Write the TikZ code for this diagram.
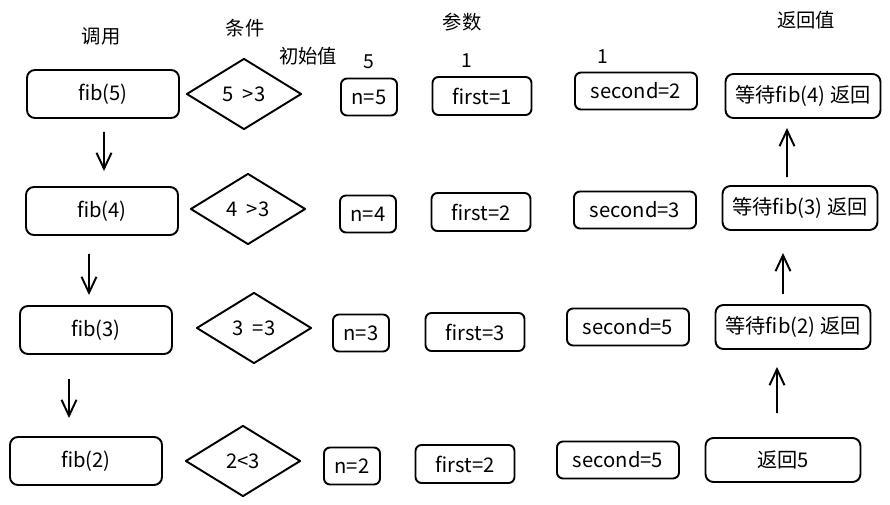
\documentclass[tikz,border=0pt]{standalone}
\usepackage{fontspec}
\setmainfont{Noto Sans CJK SC}
\usetikzlibrary{positioning}
\usetikzlibrary{shapes.geometric,arrows.meta}

\begin{document}
\begin{tikzpicture}[
	sketch/.style={draw, line width=1.1pt, line join=round, inner sep=0pt, font=\fontsize{11.5}{13}\selectfont},
	callbox/.style={sketch, rounded corners=0.16cm, minimum width=3.04cm, minimum height=0.96cm},
	condbox/.style={sketch, diamond, minimum width=2.30cm, minimum height=1.42cm},
	nbox/.style={sketch, rounded corners=0.12cm, minimum width=1.12cm, minimum height=0.74cm},
	firstbox/.style={sketch, rounded corners=0.12cm, minimum width=1.98cm, minimum height=0.76cm},
	secondbox/.style={sketch, rounded corners=0.12cm, minimum width=2.44cm, minimum height=0.74cm},
	retbox/.style={sketch, rounded corners=0.16cm, minimum width=3.10cm, minimum height=0.88cm},
	header/.style={font=\fontsize{11}{13}\selectfont},
	flow/.style={line width=1.1pt, -{Straight Barb[length=3.2mm, width=3mm]}}
]
	\useasboundingbox (0,0) rectangle (17.80cm,10.10cm);

	% ---------------------
	% Column headers
	\node[header] (CallHead)   at (2.02cm,9.38cm)  {调用};
	\node[header] (CondHead)   at (4.90cm,9.54cm)  {条件};
	\node[header] (InitHead)   at (6.16cm,8.98cm)  {初始值};
	\node[header] (ParamHead)  at (9.24cm,9.66cm)  {参数};
	\node[header] (ReturnHead) at (16.12cm,9.70cm) {返回值};

	% ---------------------
	% Calls
	\node[callbox] (Fib5) at (2.06cm,8.22cm) {fib(5)};
	\node[callbox] (Fib4) at (2.04cm,5.88cm) {fib(4)};
	\node[callbox] (Fib3) at (1.92cm,3.50cm) {fib(3)};
	\node[callbox] (Fib2) at (1.72cm,0.88cm) {fib(2)};

	% ---------------------
	% Conditions
	\node[condbox] (Cond5) at (4.88cm,8.22cm) {5 \ >3};
	\node[condbox] (Cond4) at (4.96cm,5.92cm) {4 \ >3};
	\node[condbox] (Cond3) at (5.08cm,3.54cm) {3 \ =3};
	\node[condbox] (Cond2) at (4.86cm,0.88cm) {2<3};

	% ---------------------
	% Initial values
	\node[nbox] (N5) at (7.38cm,8.16cm) {n=5};
	\node[nbox] (N4) at (7.36cm,5.82cm) {n=4};
	\node[nbox] (N3) at (7.22cm,3.44cm) {n=3};
	\node[nbox] (N2) at (7.04cm,0.78cm) {n=2};

	% ---------------------
	% Parameters
	\node[firstbox] (FirstA) at (9.64cm,8.18cm) {first=1};
	\node[firstbox] (FirstB) at (9.62cm,5.86cm) {first=2};
	\node[firstbox] (FirstC) at (9.50cm,3.46cm) {first=3};
	\node[firstbox] (FirstD) at (9.30cm,0.82cm) {first=2};

	\node[secondbox] (SecondA) at (12.72cm,8.28cm) {second=2};
	\node[secondbox] (SecondB) at (12.70cm,5.90cm) {second=3};
	\node[secondbox] (SecondC) at (12.56cm,3.56cm) {second=5};
	\node[secondbox] (SecondD) at (12.36cm,0.90cm) {second=5};

	\node[header, above=0.06cm of N5] (NStart) {5};
	\node[header, above=0.04cm of FirstA, xshift=-0.30cm] (FirstStart) {1};
	\node[header, above=0.04cm of SecondA, xshift=-0.66cm] (SecondStart) {1};

	% ---------------------
	% Return values
	\node[retbox] (Ret4) at (16.06cm,8.18cm) {等待fib(4) 返回};
	\node[retbox] (Ret3) at (16.00cm,5.94cm) {等待fib(3) 返回};
	\node[retbox] (Ret2) at (15.86cm,3.56cm) {等待fib(2) 返回};
	\node[retbox] (Ret5) at (15.66cm,0.90cm) {返回5};

	% ------------------------------------------------
	% Call arrows
	\draw[flow] ([xshift=0.02cm, yshift=-0.26cm]Fib5.south) -- ([xshift=0.04cm, yshift=0.30cm]Fib4.north);
	\draw[flow] ([xshift=-0.26cm, yshift=-0.36cm]Fib4.south) -- ([xshift=-0.14cm, yshift=0.20cm]Fib3.north);
	\draw[flow] ([xshift=-0.54cm, yshift=-0.48cm]Fib3.south) -- ([xshift=-0.34cm, yshift=0.36cm]Fib2.north);

	% ------------------------------------------------
	% Return arrows
	\draw[flow] ([xshift=-0.26cm, yshift=0.16cm]Ret3.north) -- ([xshift=-0.32cm, yshift=-0.18cm]Ret4.south);
	\draw[flow] ([xshift=-0.20cm, yshift=0.20cm]Ret2.north) -- ([xshift=-0.34cm, yshift=-0.44cm]Ret3.south);
	\draw[flow] ([xshift=-0.12cm, yshift=0.48cm]Ret5.north) -- ([xshift=-0.32cm, yshift=-0.34cm]Ret2.south);

\end{tikzpicture}
\end{document}
